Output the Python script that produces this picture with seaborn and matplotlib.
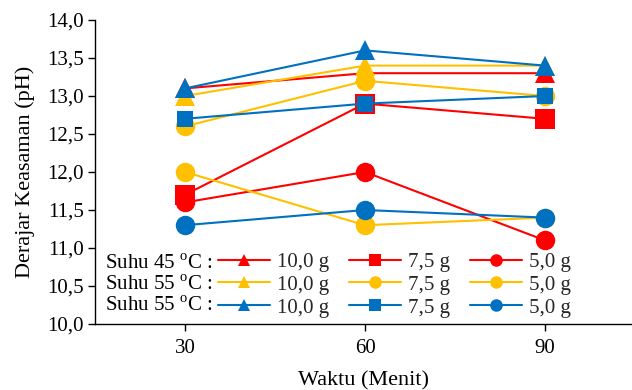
import matplotlib
matplotlib.use("Agg")
import matplotlib.pyplot as plt
from matplotlib.lines import Line2D
from matplotlib.ticker import FuncFormatter, MultipleLocator
import pandas as pd
import seaborn as sns

# Waktu (menit)
waktu = [30, 60, 90]

# Derajat keasaman (pH) per suhu dan massa
suhu45_100 = [13.1, 13.3, 13.3]
suhu45_75 = [11.7, 12.9, 12.7]
suhu45_50 = [11.6, 12.0, 11.1]
suhu55_100 = [13.0, 13.4, 13.4]
suhu55_75 = [12.6, 13.2, 13.0]
suhu55_50 = [12.0, 11.3, 11.4]
suhu55b_100 = [13.1, 13.6, 13.4]
suhu55b_75 = [12.7, 12.9, 13.0]
suhu55b_50 = [11.3, 11.5, 11.4]

row_labels = ["Suhu 45 $^{\\mathrm{o}}$C :", "Suhu 55 $^{\\mathrm{o}}$C :", "Suhu 55 $^{\\mathrm{o}}$C :"]
mass_labels = ["10,0 g", "7,5 g", "5,0 g"]

sns.set_style("ticks")
plt.rcParams["font.family"] = ["Liberation Serif", "DejaVu Serif"]
plt.rcParams["mathtext.fontset"] = "custom"
plt.rcParams["mathtext.rm"] = "Liberation Serif"

FS_LAB = 16
FS_TICK = 15
FS_LEG = 15
RED, YEL, BLUE = "#FF0000", "#FFC000", "#0070C0"

# (nilai, warna, marker, ukuran marker di grafik)
series = [
    (suhu45_100, RED, "^", 15), (suhu45_75, RED, "s", 14), (suhu45_50, RED, "o", 14),
    (suhu55_100, YEL, "^", 15), (suhu55_75, YEL, "o", 14), (suhu55_50, YEL, "o", 14),
    (suhu55b_100, BLUE, "^", 15), (suhu55b_75, BLUE, "s", 11), (suhu55b_50, BLUE, "o", 14),
]

fig = plt.figure(figsize=(6.32, 3.9), dpi=100)
ax = fig.add_axes([95 / 632, 1 - 324 / 390, 1 - 95 / 632, (324 - 20) / 390])

for vals, col, mk, ms in series:
    df = pd.DataFrame({"waktu": waktu, "ph": vals})
    sns.lineplot(data=df, x="waktu", y="ph", color=col, marker=mk, markersize=ms,
                 markeredgewidth=0, linewidth=1.5, ax=ax, legend=False)

ax.set_xlim(15, 104.5)
ax.set_ylim(10, 14)
ax.set_xticks(waktu)
ax.yaxis.set_major_locator(MultipleLocator(0.5))
ax.yaxis.set_major_formatter(FuncFormatter(lambda v, p: f"{v:.1f}".replace(".", ",")))
ax.tick_params(axis="both", labelsize=FS_TICK, direction="out", length=5, width=1, color="black", labelcolor="black")
ax.tick_params(axis="y", pad=3)
ax.tick_params(axis="x", pad=6)
for s in ["left", "bottom"]:
    ax.spines[s].set_color("black")
    ax.spines[s].set_linewidth(1)
sns.despine(ax=ax)
ax.set_xlabel("Waktu (Menit)", fontsize=FS_LAB, color="black", labelpad=9)
ax.set_ylabel("Derajar Keasaman (pH)", fontsize=FS_LAB, color="black", labelpad=9)

# legenda: kolom per massa, baris per suhu
handles, labels = [], []
for j in range(3):
    for i in range(3):
        vals, col, mk, ms = series[i * 3 + j]
        handles.append(Line2D([], [], color=col, marker=mk, markersize=9, markeredgewidth=0, linewidth=1.5))
        labels.append(mass_labels[j])
ax.legend(handles, labels, ncol=3, loc="center left", bbox_to_anchor=(218 / 632, 1 - 285 / 390),
          bbox_transform=fig.transFigure, frameon=False, fontsize=FS_LEG, borderpad=0, borderaxespad=0,
          handlelength=2.5, handletextpad=0.34, columnspacing=0.94, labelspacing=0.15)
for i, lab in enumerate(row_labels):
    fig.text(105 / 632, 1 - (264 + 21 * i) / 390, lab, fontsize=FS_LEG, va="center", ha="left", color="black")

fig.savefig("out.png", dpi=100)
